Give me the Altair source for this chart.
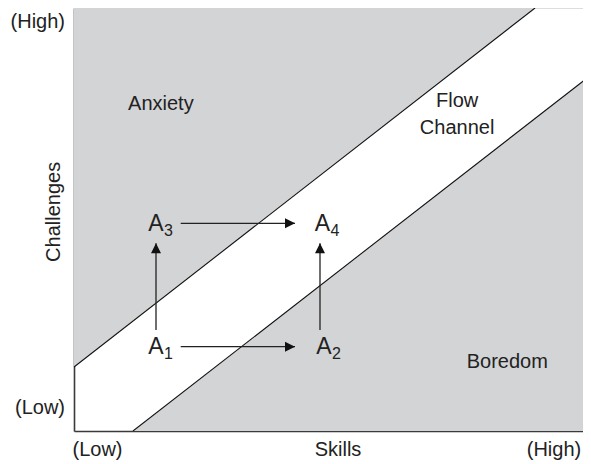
import altair as alt
import pandas as pd

# ---- data (skills = x, challenges = y, both 0..100) ----
upper_skills = [0, 89.17]
upper_chall = [15.13, 100]
upper_top = [100, 100]

lower_skills = [11.41, 100]
lower_chall = [0, 84.16]
lower_bottom = [0, 0]

region_labels = ["Anxiety", "Flow", "Channel", "Boredom"]
region_x = [16.8, 74.1, 74.1, 83.8]
region_y = [77.3, 78.0, 71.6, 16.3]

point_names = ["A", "A", "A", "A"]
point_subs = ["1", "2", "3", "4"]
point_x = [15.86, 48.36, 15.86, 48.07]
point_y = [19.74, 19.74, 49.05, 49.05]

h_arrow_x1 = [20.64, 20.64]
h_arrow_x2 = [42.75, 42.75]
h_arrow_y = [19.93, 49.10]

v_arrow_x = [15.86, 47.58]
v_arrow_y1 = [23.88, 23.88]
v_arrow_y2 = [44.37, 44.37]

y_tick_labels = ["(High)", "(Low)"]
y_tick_x = [-1.74, -1.74]
y_tick_y = [96.8, 5.32]

x_tick_labels = ["(Low)", "Skills"]
x_tick_x = [4.55, 51.06]
x_tick_y = [-4.6, -4.4]
x_end_label = ["(High)"]
x_end_x = [98.1]
x_end_y = [-4.6]

y_title = ["Challenges"]
y_title_x = [-3.87]
y_title_y = [51.8]

FONT = "Liberation Sans"
GRAY = "#d3d4d6"
INK = "#222222"

# visible part of the skills axis (the reference is cut at the right edge)
X_VISIBLE = 98.45

xs = alt.Scale(domain=[0, X_VISIBLE], nice=False, zero=False)
ys = alt.Scale(domain=[0, 100], nice=False, zero=False)
xax = alt.Axis(domain=True, ticks=False, labels=False, grid=False, title=None,
               domainColor="#3a3a3a", domainWidth=1.6)
yax = alt.Axis(domain=True, ticks=False, labels=False, grid=False, title=None,
               domainColor="#3a3a3a", domainWidth=1.6)

up = pd.DataFrame({"s": upper_skills, "c": upper_chall, "c2": upper_top})
lo = pd.DataFrame({"s": lower_skills, "c": lower_chall, "c2": lower_bottom})

area_up = alt.Chart(up).mark_area(color=GRAY, opacity=1, clip=True).encode(
    x=alt.X("s:Q", scale=xs, axis=xax), y=alt.Y("c:Q", scale=ys, axis=yax), y2="c2:Q")
area_lo = alt.Chart(lo).mark_area(color=GRAY, opacity=1, clip=True).encode(
    x=alt.X("s:Q", scale=xs), y=alt.Y("c:Q", scale=ys), y2="c2:Q")
line_up = alt.Chart(up).mark_line(color="#111", strokeWidth=1.1, clip=True).encode(
    x=alt.X("s:Q", scale=xs), y=alt.Y("c:Q", scale=ys))
line_lo = alt.Chart(lo).mark_line(color="#111", strokeWidth=1.1, clip=True).encode(
    x=alt.X("s:Q", scale=xs), y=alt.Y("c:Q", scale=ys))

# arrows
hdf = pd.DataFrame({"x1": h_arrow_x1, "x2": h_arrow_x2, "y": h_arrow_y})
vdf = pd.DataFrame({"x": v_arrow_x, "y1": v_arrow_y1, "y2": v_arrow_y2})
h_shaft = alt.Chart(hdf).mark_rule(color=INK, strokeWidth=1.3).encode(
    x=alt.X("x1:Q", scale=xs), x2="x2:Q", y=alt.Y("y:Q", scale=ys))
v_shaft = alt.Chart(vdf).mark_rule(color=INK, strokeWidth=1.3).encode(
    x=alt.X("x:Q", scale=xs), y=alt.Y("y1:Q", scale=ys), y2="y2:Q")
h_head = alt.Chart(hdf).mark_point(shape="M0,0 L-1,-0.5 L-1,0.5 Z", size=400,
                                   filled=True, color="#111", opacity=1, strokeWidth=0).encode(
    x=alt.X("x2:Q", scale=xs), y=alt.Y("y:Q", scale=ys))
v_head = alt.Chart(vdf).mark_point(shape="M0,0 L-0.5,1 L0.5,1 Z", size=400,
                                   filled=True, color="#111", opacity=1, strokeWidth=0).encode(
    x=alt.X("x:Q", scale=xs), y=alt.Y("y2:Q", scale=ys))

# point labels
pdf = pd.DataFrame({"x": point_x, "y": point_y, "n": point_names, "sub": point_subs})
a_text = alt.Chart(pdf).mark_text(font=FONT, fontSize=23, color=INK, align="center",
                                  baseline="middle").encode(
    x=alt.X("x:Q", scale=xs), y=alt.Y("y:Q", scale=ys), text="n:N")
sub_text = alt.Chart(pdf).mark_text(font=FONT, fontSize=16, color=INK, align="left",
                                    baseline="middle", dx=8, dy=7).encode(
    x=alt.X("x:Q", scale=xs), y=alt.Y("y:Q", scale=ys), text="sub:N")

# region labels
rdf = pd.DataFrame({"x": region_x, "y": region_y, "t": region_labels})
r_text = alt.Chart(rdf).mark_text(font=FONT, fontSize=20, color=INK, align="center",
                                  baseline="middle").encode(
    x=alt.X("x:Q", scale=xs), y=alt.Y("y:Q", scale=ys), text="t:N")

# axis texts
ydf = pd.DataFrame({"x": y_tick_x, "y": y_tick_y, "t": y_tick_labels})
y_text = alt.Chart(ydf).mark_text(font=FONT, fontSize=20, color=INK, align="right",
                                  baseline="middle").encode(
    x=alt.X("x:Q", scale=xs), y=alt.Y("y:Q", scale=ys), text="t:N")
xdf = pd.DataFrame({"x": x_tick_x, "y": x_tick_y, "t": x_tick_labels})
x_text = alt.Chart(xdf).mark_text(font=FONT, fontSize=20, color=INK, align="center",
                                  baseline="middle").encode(
    x=alt.X("x:Q", scale=xs), y=alt.Y("y:Q", scale=ys), text="t:N")
edf = pd.DataFrame({"x": x_end_x, "y": x_end_y, "t": x_end_label})
e_text = alt.Chart(edf).mark_text(font=FONT, fontSize=20, color=INK, align="right",
                                  baseline="middle").encode(
    x=alt.X("x:Q", scale=xs), y=alt.Y("y:Q", scale=ys), text="t:N")
tdf = pd.DataFrame({"x": y_title_x, "y": y_title_y, "t": y_title})
t_text = alt.Chart(tdf).mark_text(font=FONT, fontSize=20, color=INK, align="center",
                                  baseline="middle", angle=270).encode(
    x=alt.X("x:Q", scale=xs), y=alt.Y("y:Q", scale=ys), text="t:N")

chart = alt.layer(
    area_up, area_lo, line_up, line_lo,
    h_shaft, v_shaft, h_head, v_head,
    a_text, sub_text, r_text, y_text, x_text, e_text, t_text,
).properties(
    width=509, height=423,
    autosize=alt.AutoSizeParams(type="none"),
    padding={"left": 66, "top": 0, "right": 0, "bottom": 33},
).configure_view(stroke=None).configure(background="white")

chart.save("out.html", embed_options={"renderer": "svg", "actions": False})
